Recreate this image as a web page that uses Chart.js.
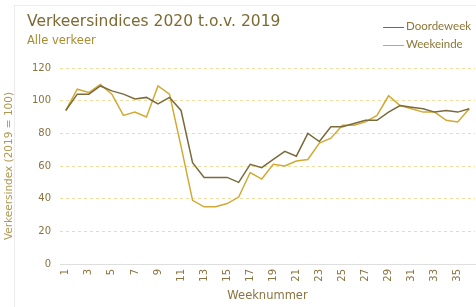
<!DOCTYPE html>
<html>
<head>
<meta charset="utf-8">
<script src="https://cdn.jsdelivr.net/npm/chart.js@4"></script>
<style>
    body { margin: 0; background: #fff; }
    #wrap { position: relative; width: 476px; height: 307px; overflow: hidden; }
    #frame { position: absolute; left: 14px; top: 5px; width: 480px; height: 320px; border: 1px solid #ececec; }
    #chart { position: absolute; left: 0; top: 0; }
    .title { position: absolute; left: 27px; top: 12px; font-family: 'DejaVu Sans', sans-serif; font-size: 15.5px; color: #7d6a33; }
    .subtitle { position: absolute; left: 27px; top: 33px; font-family: 'DejaVu Sans', sans-serif; font-size: 11.5px; color: #a88c30; }
    .legend { position: absolute; left: 383px; font-family: 'Lato', sans-serif; font-size: 11.5px; color: #8c7535; }
    .legend span { display: inline-block; width: 21px; height: 0; vertical-align: middle; margin-right: 2px; border-top: 1.5px solid; }
</style>
</head>
<body>
<div id="wrap">
    <div id="frame"></div>
    <canvas id="chart" width="476" height="307"></canvas>
    <div class="title">Verkeersindices 2020 t.o.v. 2019</div>
    <div class="subtitle">Alle verkeer</div>
    <div class="legend" style="top: 19px;"><span style="border-color: #7a6a3c;"></span>Doordeweek</div>
    <div class="legend" style="top: 37px;"><span style="border-color: #d2a935;"></span>Weekeinde</div>
</div>
<script>
// Weeks 1..36
const weeks = [];
for (let w = 1; w <= 36; w++) weeks.push(String(w));

const doordeweek = [94, 104, 104, 109, 106, 104, 101, 102, 98, 102, 94, 62,
    53, 53, 53, 50, 61, 59, 64, 69, 66, 80, 75, 84,
    84, 86, 88, 88, 93, 97, 96, 95, 93, 94, 93, 95];

const weekeinde = [94, 107, 105, 110, 104, 91, 93, 90, 109, 104, 72, 39,
    35, 35, 37, 41, 56, 52, 61, 60, 63, 64, 74, 77,
    85, 85, 87, 91, 103, 97, 95, 93, 93, 88, 87, 95];

const yTicks = [0, 20, 40, 60, 80, 100, 120];

const textColor = '#8a7340';

// tick labels drawn by hand: rotated week numbers, right-aligned index values
const tickText = {
    id: 'tickText',
    afterDraw(chart) {
        const ctx = chart.ctx;
        const x = chart.scales.x, y = chart.scales.y;
        ctx.save();
        ctx.fillStyle = textColor;
        ctx.textAlign = 'left';
        ctx.textBaseline = 'middle';
        ctx.font = '10px "DejaVu Sans"';
        yTicks.forEach(v => {
            const s = String(v);
            ctx.fillText(s, x.left - 9 - ctx.measureText(s).width, y.getPixelForValue(v));
        });
        weeks.forEach((w, i) => {
            if (i % 2 !== 0) return;
            ctx.save();
            ctx.translate(x.getPixelForValue(i), y.bottom + 5);
            ctx.rotate(-Math.PI / 2);
            ctx.fillText(w, -ctx.measureText(w).width, 0);
            ctx.restore();
        });
        ctx.restore();
    }
};

new Chart(document.getElementById('chart'), {
    type: 'line',
    data: {
        labels: weeks,
        datasets: [
            {
                label: 'Doordeweek',
                data: doordeweek,
                borderColor: '#7a6a3c',
                borderWidth: 1.5,
                pointRadius: 0,
                tension: 0
            },
            {
                label: 'Weekeinde',
                data: weekeinde,
                borderColor: '#d2a935',
                borderWidth: 1.5,
                pointRadius: 0,
                tension: 0
            }
        ]
    },
    plugins: [tickText],
    options: {
        responsive: false,
        animation: false,
        layout: { padding: { top: 68, right: 1, bottom: 4, left: 0 } },
        plugins: {
            legend: { display: false },
            tooltip: { enabled: false }
        },
        scales: {
            x: {
                offset: true,
                grid: { display: false },
                border: { color: '#dedede' },
                ticks: { display: false },
                title: {
                    display: true,
                    text: 'Weeknummer',
                    color: '#8a7340',
                    font: { family: 'DejaVu Sans', size: 11.5 },
                    padding: { top: 0, bottom: 0 }
                },
                afterFit: function(scale) { scale.height = 39; }
            },
            y: {
                min: 0,
                max: 120,
                afterBuildTicks: function(scale) {
                    scale.ticks = yTicks.map(v => ({ value: v }));
                },
                grid: {
                    color: function(ctx) { return ctx.tick.value === 0 ? 'rgba(0,0,0,0)' : '#f0dca0'; },
                    drawTicks: false
                },
                border: { display: false, dash: [3, 3] },
                ticks: { display: false },
                title: {
                    display: true,
                    text: 'Verkeersindex (2019 = 100)',
                    color: '#b09850',
                    font: { family: 'DejaVu Sans', size: 10.5 },
                    padding: { top: 3, bottom: 2 }
                },
                afterFit: function(scale) { scale.width = 60; }
            }
        }
    }
});
</script>
</body>
</html>
